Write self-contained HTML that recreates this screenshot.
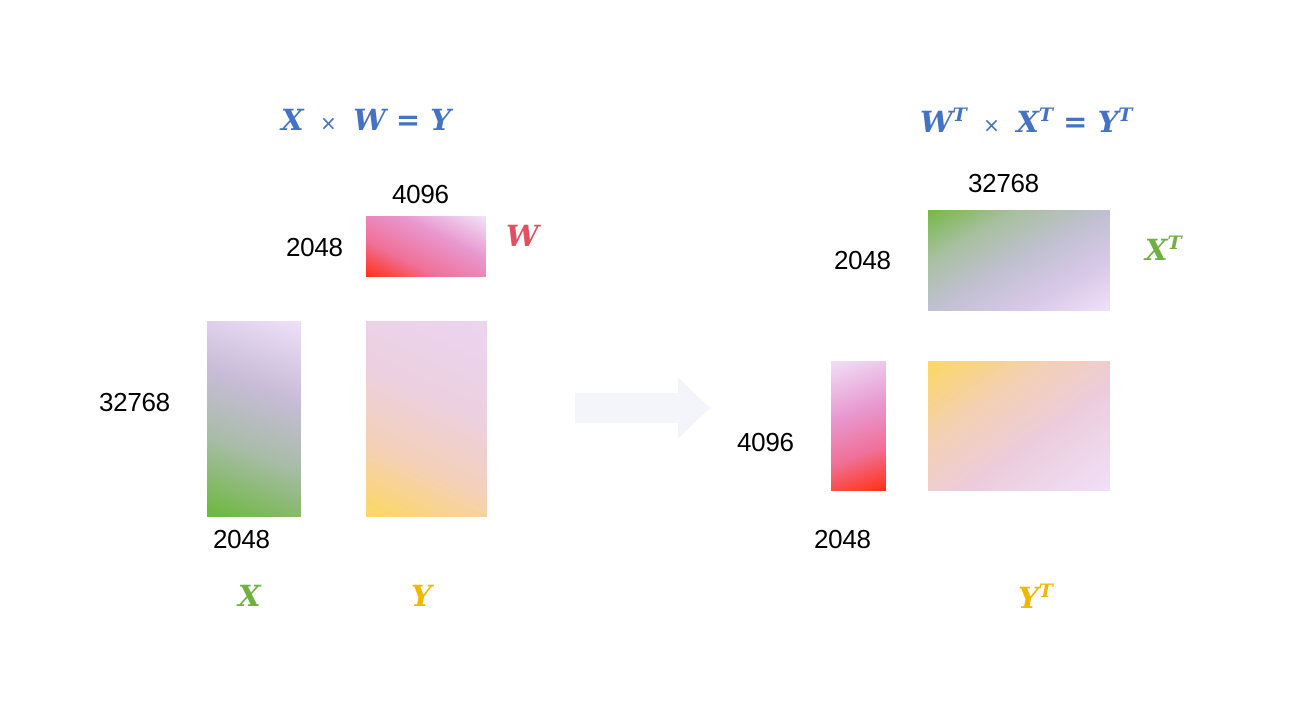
<!DOCTYPE html>
<html><head><meta charset="utf-8"><style>
body{margin:0;width:1290px;height:704px;background:#fff;position:relative;overflow:hidden;font-family:"Liberation Sans",sans-serif}
.a{position:absolute}
.n{position:absolute;font-size:26px;color:#000;line-height:1;letter-spacing:-0.3px}
.m{position:absolute;font-family:"DejaVu Serif","Liberation Serif",serif;font-weight:bold;font-style:italic;font-size:29px;line-height:1;white-space:nowrap}
.m sup{font-size:19px;vertical-align:0;position:relative;top:-11px}
.op{font-style:normal;font-weight:normal;font-family:"DejaVu Sans",sans-serif;font-size:20px}
.eq{font-style:normal;font-weight:bold}
</style></head><body>
<div class="m" style="left:281px;top:106px;color:#4472c4">X <span class="op">&nbsp;×&nbsp;</span> W <span class="eq">=</span> Y</div>
<div class="m" style="left:920px;top:108px;color:#4472c4">W<sup>T</sup> <span class="op">&nbsp;×&nbsp;</span> X<sup>T</sup> <span class="eq">=</span> Y<sup>T</sup></div>

<div class="n" style="left:392px;top:181px">4096</div>
<div class="n" style="left:286px;top:234px">2048</div>
<div class="a" style="left:366px;top:216px;width:120px;height:61px;background:linear-gradient(to top right,#ff3010 0%,#f07098 30%,#e898d0 65%,#f2e4f8 100%)"></div>
<div class="m" style="left:506px;top:222px;color:#e0505e">W</div>

<div class="n" style="left:99px;top:389px">32768</div>
<div class="a" style="left:207px;top:321px;width:94px;height:196px;background:linear-gradient(20deg,#6cb83c 0%,#a8bca8 35%,#c8bcd8 65%,#f0e0f8 100%)"></div>
<div class="n" style="left:213px;top:526px">2048</div>
<div class="m" style="left:238px;top:582px;color:#70b040">X</div>

<div class="a" style="left:366px;top:321px;width:121px;height:196px;background:linear-gradient(25deg,#fcd860 0%,#f4d0b8 30%,#ecd0e0 60%,#ecd4f0 100%)"></div>
<div class="m" style="left:411px;top:582px;color:#f0b800">Y</div>

<svg class="a" style="left:570px;top:372px" width="150" height="72"><polygon points="5,21 108,21 108,5 140,36 108,67 108,51 5,51" fill="#f4f5fa"/></svg>

<div class="n" style="left:968px;top:170px">32768</div>
<div class="n" style="left:834px;top:247px">2048</div>
<div class="a" style="left:928px;top:210px;width:182px;height:101px;background:linear-gradient(to bottom right,#74b844 0%,#a8c0a0 25%,#c0c0d0 50%,#d8c8e8 75%,#f0e0f8 100%)"></div>
<div class="m" style="left:1145px;top:236px;color:#70b040">X<sup>T</sup></div>

<div class="n" style="left:737px;top:429px">4096</div>
<div class="a" style="left:831px;top:361px;width:55px;height:130px;background:linear-gradient(160deg,#f0e0f8 0%,#e898d0 40%,#f07098 70%,#ff3010 100%)"></div>
<div class="n" style="left:814px;top:526px">2048</div>

<div class="a" style="left:928px;top:361px;width:182px;height:130px;background:linear-gradient(to bottom right,#fcd860 0%,#f4d0b0 30%,#ecccdc 60%,#f0e0f8 100%)"></div>
<div class="m" style="left:1018px;top:584px;color:#f0b800">Y<sup>T</sup></div>
</body></html>
